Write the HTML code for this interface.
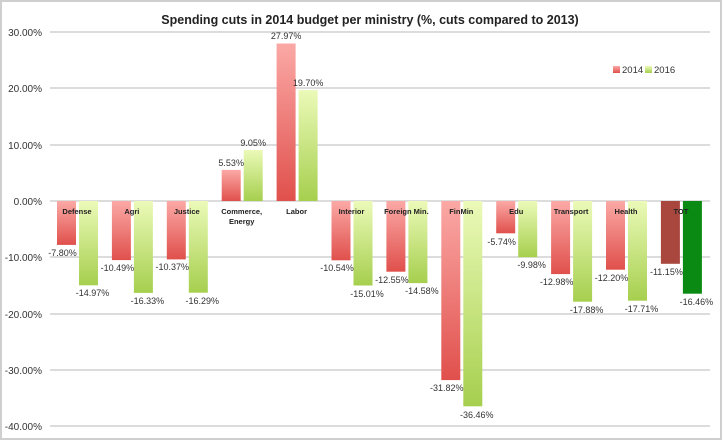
<!DOCTYPE html><html><head><style>body{margin:0;background:#fff}</style></head><body>
<svg width="723" height="441" xmlns="http://www.w3.org/2000/svg" font-family="Liberation Sans, sans-serif">
<defs>
<linearGradient id="r" x1="0" y1="0" x2="0" y2="1"><stop offset="0" stop-color="#fba9a6"/><stop offset="1" stop-color="#e0504c"/></linearGradient>
<linearGradient id="g" x1="0" y1="0" x2="0" y2="1"><stop offset="0" stop-color="#ebfab8"/><stop offset="1" stop-color="#a6cf4e"/></linearGradient>
</defs>
<rect x="1" y="1" width="720" height="438" fill="#fff" stroke="#cfcfcf" stroke-width="2"/>
<text x="370" y="24" font-size="12.5" font-weight="bold" text-anchor="middle" fill="#222">Spending cuts in 2014 budget per ministry (%, cuts compared to 2013)</text>
<g stroke="#c8c8c8" stroke-width="1.2">
<line x1="50" x2="710" y1="32" y2="32"/><line x1="50" x2="710" y1="88" y2="88"/><line x1="50" x2="710" y1="145" y2="145"/><line x1="50" x2="710" y1="201" y2="201"/><line x1="50" x2="710" y1="257" y2="257"/><line x1="50" x2="710" y1="314" y2="314"/><line x1="50" x2="710" y1="370" y2="370"/><line x1="50" x2="710" y1="426" y2="426"/>
</g>
<g font-size="10" fill="#333" text-anchor="end">
<text x="42" y="36">30.00%</text><text x="42" y="92">20.00%</text><text x="42" y="149">10.00%</text><text x="42" y="205">0.00%</text><text x="42" y="261">-10.00%</text><text x="42" y="318">-20.00%</text><text x="42" y="374">-30.00%</text><text x="42" y="430">-40.00%</text>
</g>
<g>
<rect x="57" y="201" width="19" height="43.9" fill="url(#r)"/><rect x="79" y="201" width="19" height="84.3" fill="url(#g)"/>
<rect x="111.9" y="201" width="19" height="59.1" fill="url(#r)"/><rect x="133.9" y="201" width="19" height="91.9" fill="url(#g)"/>
<rect x="166.8" y="201" width="19" height="58.4" fill="url(#r)"/><rect x="188.8" y="201" width="19" height="91.7" fill="url(#g)"/>
<rect x="221.7" y="169.9" width="19" height="31.1" fill="url(#r)"/><rect x="243.7" y="150" width="19" height="51" fill="url(#g)"/>
<rect x="276.6" y="43.5" width="19" height="157.5" fill="url(#r)"/><rect x="298.6" y="90.1" width="19" height="110.9" fill="url(#g)"/>
<rect x="331.5" y="201" width="19" height="59.3" fill="url(#r)"/><rect x="353.5" y="201" width="19" height="84.5" fill="url(#g)"/>
<rect x="386.4" y="201" width="19" height="70.7" fill="url(#r)"/><rect x="408.4" y="201" width="19" height="82.1" fill="url(#g)"/>
<rect x="441.3" y="201" width="19" height="179.1" fill="url(#r)"/><rect x="463.3" y="201" width="19" height="205.3" fill="url(#g)"/>
<rect x="496.2" y="201" width="19" height="32.3" fill="url(#r)"/><rect x="518.2" y="201" width="19" height="56.2" fill="url(#g)"/>
<rect x="551.1" y="201" width="19" height="73.1" fill="url(#r)"/><rect x="573.1" y="201" width="19" height="100.7" fill="url(#g)"/>
<rect x="606" y="201" width="19" height="68.7" fill="url(#r)"/><rect x="628" y="201" width="19" height="99.7" fill="url(#g)"/>
<rect x="660.9" y="201" width="19" height="62.8" fill="#a9473f"/><rect x="682.9" y="201" width="19" height="92.7" fill="#0a8a12"/>
</g>
<g font-size="9" fill="#333" text-anchor="middle">
<text x="62.5" y="256">-7.80%</text><text x="92.5" y="296">-14.97%</text>
<text x="117.4" y="271">-10.49%</text><text x="147.4" y="304">-16.33%</text>
<text x="172.3" y="270">-10.37%</text><text x="202.3" y="304">-16.29%</text>
<text x="231.2" y="166">5.53%</text><text x="253.2" y="146">9.05%</text>
<text x="286.1" y="39">27.97%</text><text x="308.1" y="86">19.70%</text>
<text x="337" y="271">-10.54%</text><text x="367" y="297">-15.01%</text>
<text x="391.9" y="283">-12.55%</text><text x="421.9" y="294">-14.58%</text>
<text x="446.8" y="391">-31.82%</text><text x="476.8" y="418">-36.46%</text>
<text x="501.7" y="245">-5.74%</text><text x="531.7" y="268">-9.98%</text>
<text x="556.6" y="285">-12.98%</text><text x="586.6" y="313">-17.88%</text>
<text x="611.5" y="281">-12.20%</text><text x="641.5" y="312">-17.71%</text>
<text x="666.4" y="275">-11.15%</text><text x="696.4" y="305">-16.46%</text>
</g>
<g font-size="7.5" font-weight="bold" fill="#222" text-anchor="middle">
<text x="77" y="214">Defense</text><text x="131.9" y="214">Agri</text><text x="186.8" y="214">Justice</text>
<text x="241.7" y="214">Commerce,</text><text x="241.7" y="224">Energy</text>
<text x="296.6" y="214">Labor</text><text x="351.5" y="214">Interior</text><text x="406.4" y="214">Foreign Min.</text>
<text x="461.3" y="214">FinMin</text><text x="516.2" y="214">Edu</text><text x="571.1" y="214">Transport</text>
<text x="626" y="214">Health</text><text x="680.9" y="214">TOT</text>
</g>
<rect x="613" y="66" width="7" height="7" fill="url(#r)"/><text x="622" y="73" font-size="9.5" fill="#333">2014</text>
<rect x="645" y="66" width="7" height="7" fill="url(#g)"/><text x="654" y="73" font-size="9.5" fill="#333">2016</text>
</svg></body></html>
